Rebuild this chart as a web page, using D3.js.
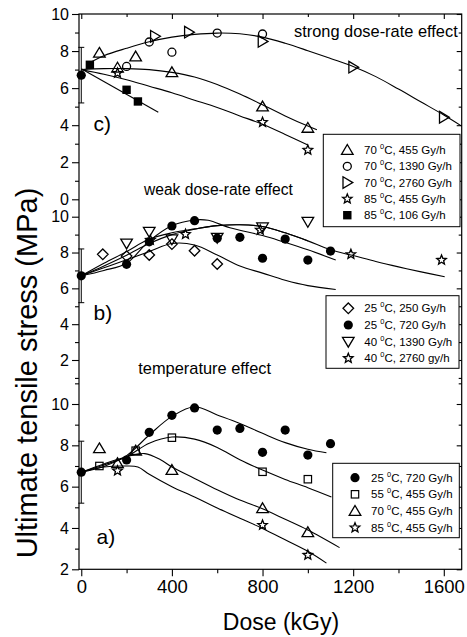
<!DOCTYPE html>
<html><head><meta charset="utf-8">
<script src="https://cdn.jsdelivr.net/npm/d3@7"></script>
<style>
body{margin:0;background:#fff;}
svg text{font-family:"Liberation Sans",Arial,sans-serif;fill:#000;}
</style></head>
<body><svg id="chart" width="467" height="637"></svg>
<script>
// ---------- DATA ----------
const xTicks = [0, 400, 800, 1200, 1600];
const xMinor = [200, 600, 1000, 1400];
const yTicksC = [0, 2, 4, 6, 8, 10];
const yMinorC = [1, 3, 5, 7, 9];
const yTicksB = [2, 4, 6, 8, 10];
const yMinorB = [1, 3, 5, 7, 9];
const yTicksA = [2, 4, 6, 8, 10];
const yMinorA = [3, 5, 7, 9, 11];

// common start point (dose 0)
const startDose = [0];
const startValue = [6.7];
const startErr = [1.5];

// panel c: strong dose-rate effect
const c_tri455  = [[80,7.9],[160,7.1],[240,7.7],[400,6.85],[800,5.0],[1000,3.85]];
const c_circ1390 = [[200,7.17],[300,8.49],[400,7.94],[600,8.97],[800,8.92]];
const c_triR2760 = [[325,8.8],[475,9.02],[800,8.52],[1200,7.13],[1600,4.43]];
const c_star455 = [[160,6.81],[800,4.16],[1000,2.66]];
const c_sq106 = [[38,7.26],[200,5.91],[250,5.28]];
const c_fitHigh = [[34,7.35],[100,7.75],[200,8.15],[300,8.5],[400,8.75],[500,8.9],[600,8.97],[700,8.93],[800,8.75],[900,8.42],[1000,8.02],[1100,7.6],[1200,7.17],[1300,6.62],[1400,5.95],[1500,5.25],[1600,4.55],[1679,3.95]];
const c_fit455 = [[0,7.0],[100,7.05],[200,7.05],[300,7.0],[400,6.85],[500,6.6],[600,6.2],[700,5.68],[800,5.1],[900,4.5],[1000,3.95],[1040,3.75]];
const c_fit85 = [[0,7.0],[100,6.75],[200,6.45],[300,6.1],[400,5.75],[500,5.35],[600,4.95],[700,4.5],[800,4.05],[900,3.5],[1000,2.93]];
const c_fit106 = [[0,7.05],[340,4.7]];

// panel b: weak dose-rate effect
const b_dia250 = [[95,7.9],[200,7.8],[300,7.86],[400,8.47],[500,8.1],[600,7.36]];
const b_circ720 = [[200,7.34],[300,8.6],[400,9.48],[500,9.78],[600,8.8],[700,8.85],[800,7.68],[900,8.75],[1000,7.58],[1100,8.08]];
const b_triD1390 = [[200,8.51],[300,9.16],[400,8.74],[600,8.83],[800,9.41],[1000,9.72]];
const b_star2760 = [[305,8.7],[460,9.02],[790,9.26],[1190,7.9],[1590,7.58]];
const b_fitDia = [[0,6.7],[100,7.15],[200,7.6],[300,8.05],[400,8.5],[500,8.42],[600,7.86],[700,7.25],[800,6.85],[900,6.45],[1000,6.15],[1123,5.94]];
const b_fitCirc = [[0,6.7],[100,7.0],[200,7.4],[300,8.65],[400,9.5],[500,9.82],[560,9.8],[656,9.38],[800,8.95],[891,8.6],[1000,8.15],[1123,7.58]];
const b_fitTri = [[0,6.7],[100,7.4],[200,8.05],[300,8.75],[400,9.1],[500,9.32],[600,9.5],[700,9.55],[800,9.45],[900,9.1],[1000,8.65]];
const b_fitStar = [[0,6.7],[100,7.25],[200,7.85],[300,8.5],[400,9.0],[500,9.3],[600,9.5],[700,9.55],[800,9.45],[900,9.1],[1000,8.65],[1100,8.15],[1200,7.83],[1300,7.5],[1400,7.2],[1500,6.92],[1604,6.65]];

// panel a: temperature effect
const a_circ720 = [[200,7.29],[300,8.63],[400,9.45],[500,9.81],[600,8.74],[700,8.82],[800,7.66],[900,8.74],[1000,7.53],[1100,8.08]];
const a_sq455 = [[80,7.0],[240,7.74],[400,8.37],[800,6.72],[1000,6.36]];
const a_tri455 = [[80,7.85],[160,7.13],[240,7.74],[400,6.8],[800,4.95],[1000,3.79]];
const a_star455 = [[160,6.77],[800,4.14],[1000,2.69]];
const a_fit25 = [[0,6.7],[100,6.98],[200,7.5],[300,8.5],[400,9.4],[500,9.87],[600,9.47],[700,9.06],[800,8.58],[900,8.13],[1000,7.81],[1082,7.64]];
const a_fit55 = [[0,6.7],[100,7.05],[200,7.45],[300,8.1],[400,8.4],[500,8.3],[600,7.9],[700,7.3],[800,6.8],[900,6.35],[1000,5.95],[1104,5.5]];
const a_fit70 = [[0,6.7],[100,7.1],[200,7.45],[280,7.6],[350,7.3],[400,6.95],[500,6.4],[600,5.85],[700,5.35],[800,4.93],[900,4.42],[1000,3.9],[1140,3.05]];
const a_fit85 = [[0,6.7],[100,6.95],[200,7.0],[250,6.95],[300,6.6],[400,6.0],[500,5.5],[600,4.97],[700,4.47],[800,3.98],[900,3.43],[1000,2.87],[1082,2.3]];

// legends
const legC = ["70|C, 455 Gy/h","70|C, 1390 Gy/h","70|C, 2760 Gy/h","85|C, 455 Gy/h","85|C, 106 Gy/h"];
const legCsym = ["triUp","circle","triRight","star","squareF"];
const legB = ["25|C, 250 Gy/h","25|C, 720 Gy/h","40|C, 1390 Gy/h","40|C, 2760 gy/h"];
const legBsym = ["diamond","dot","triDown","star"];
const legA = ["25|C, 720 Gy/h","55|C, 455 Gy/h","70|C, 455 Gy/h","85|C, 455 Gy/h"];
const legAsym = ["dot","square","triUp","star"];

// ---------- DRAW ----------
const svg = d3.select("#chart");
const X0 = 79, X1 = 461.7, Ytop = 14, Ybot = 569.3;
const x = d3.scaleLinear().domain([-10, 1679]).range([X0, X1]);
const yC = d3.scaleLinear().domain([0, 10]).range([199.3, 14]);
const yB = d3.scaleLinear().domain([2, 10]).range([360, 216.7]);
const yA = d3.scaleLinear().domain([2, 10]).range([569.3, 404]);

function marker(g, type, cx, cy) {
  const s = "#000";
  let p;
  switch (type) {
    case "triUp": p = `M${cx},${cy-5.5}L${cx+5.8},${cy+4.3}L${cx-5.8},${cy+4.3}Z`; break;
    case "triDown": p = `M${cx-5.8},${cy-4.3}L${cx+5.8},${cy-4.3}L${cx},${cy+5.5}Z`; break;
    case "triRight": p = `M${cx-4.3},${cy-5.8}L${cx+5.5},${cy}L${cx-4.3},${cy+5.8}Z`; break;
    case "diamond": p = `M${cx},${cy-5.3}L${cx+5.3},${cy}L${cx},${cy+5.3}L${cx-5.3},${cy}Z`; break;
    case "star": {
      const pts = [];
      for (let i = 0; i < 10; i++) {
        const r = i % 2 ? 2.2 : 5.0;
        const a = -Math.PI / 2 + i * Math.PI / 5;
        pts.push([cx + r * Math.cos(a), cy + r * Math.sin(a)]);
      }
      p = "M" + pts.map(d => d.join(",")).join("L") + "Z"; break;
    }
  }
  if (p) { g.append("path").attr("d", p).attr("fill", "none").attr("stroke", s).attr("stroke-width", 1.3); return; }
  if (type === "circle") g.append("circle").attr("cx", cx).attr("cy", cy).attr("r", 4).attr("fill", "none").attr("stroke", s).attr("stroke-width", 1.3);
  if (type === "dot") g.append("circle").attr("cx", cx).attr("cy", cy).attr("r", 4.6).attr("fill", s);
  if (type === "square") g.append("rect").attr("x", cx-3.7).attr("y", cy-3.7).attr("width", 7.4).attr("height", 7.4).attr("fill", "none").attr("stroke", s).attr("stroke-width", 1.2);
  if (type === "squareF") g.append("rect").attr("x", cx-4.2).attr("y", cy-4.2).attr("width", 8.4).attr("height", 8.4).attr("fill", s);
}

const line = (ys) => d3.line().x(d => x(d[0])).y(d => ys(d[1])).curve(d3.curveCatmullRom.alpha(0.5));

function drawCurves(ys, fits) {
  const g = svg.append("g");
  fits.forEach(f => g.append("path").attr("d", line(ys)(f)).attr("fill", "none").attr("stroke", "#000").attr("stroke-width", 1.1));
}
function drawSeries(ys, data, type) {
  const g = svg.append("g");
  data.forEach(d => marker(g, type, x(d[0]), ys(d[1])));
}
function drawStart(ys) {
  const g = svg.append("g");
  startDose.forEach((d, i) => {
    const cx = x(d), v = startValue[i], e = startErr[i];
    g.append("line").attr("x1", cx).attr("x2", cx).attr("y1", ys(v - e)).attr("y2", ys(v + e)).attr("stroke", "#000").attr("stroke-width", 1);
    [v - e, v + e].forEach(t => g.append("line").attr("x1", cx - 3).attr("x2", cx + 3).attr("y1", ys(t)).attr("y2", ys(t)).attr("stroke", "#000").attr("stroke-width", 1));
    marker(g, "dot", cx, ys(v));
  });
}

drawCurves(yC, [c_fitHigh, c_fit455, c_fit85, c_fit106]);
drawCurves(yB, [b_fitDia, b_fitCirc, b_fitTri, b_fitStar]);
drawCurves(yA, [a_fit25, a_fit55, a_fit70, a_fit85]);

drawSeries(yC, c_tri455, "triUp");
drawSeries(yC, c_circ1390, "circle");
drawSeries(yC, c_triR2760, "triRight");
drawSeries(yC, c_star455, "star");
drawSeries(yC, c_sq106, "squareF");
drawStart(yC);
drawSeries(yB, b_dia250, "diamond");
drawSeries(yB, b_circ720, "dot");
drawSeries(yB, b_triD1390, "triDown");
drawSeries(yB, b_star2760, "star");
drawStart(yB);
drawSeries(yA, a_circ720, "dot");
drawSeries(yA, a_sq455, "square");
drawSeries(yA, a_tri455, "triUp");
drawSeries(yA, a_star455, "star");
drawStart(yA);

svg.append("rect").attr("x", X0).attr("y", Ytop).attr("width", X1 - X0).attr("height", Ybot - Ytop)
  .attr("fill", "none").attr("stroke", "#000").attr("stroke-width", 1.2);

function styleAxis(g) { g.select(".domain").remove(); g.selectAll("line").attr("stroke", "#000").attr("stroke-width", 1.1); }
const xb = svg.append("g").attr("transform", `translate(0,${Ybot})`)
  .call(d3.axisBottom(x).tickValues(xTicks).tickSize(7).tickPadding(4).tickFormat(d3.format("d")));
styleAxis(xb); xb.selectAll("text").attr("font-size", 18.5).attr("font-family", "Liberation Sans, Arial, sans-serif");
const xbm = svg.append("g").attr("transform", `translate(0,${Ybot})`).call(d3.axisBottom(x).tickValues(xMinor).tickSize(4).tickFormat(""));
styleAxis(xbm);
const xt = svg.append("g").attr("transform", `translate(0,${Ytop})`).call(d3.axisBottom(x).tickValues(xTicks).tickSize(5).tickFormat(""));
styleAxis(xt);
const xtm = svg.append("g").attr("transform", `translate(0,${Ytop})`).call(d3.axisBottom(x).tickValues(xMinor).tickSize(3).tickFormat(""));
styleAxis(xtm);

[[yC, yTicksC, yMinorC], [yB, yTicksB, yMinorB], [yA, yTicksA, yMinorA]].forEach(([ys, maj, mnr]) => {
  const gl = svg.append("g").attr("transform", `translate(${X0},0)`)
    .call(d3.axisLeft(ys).tickValues(maj).tickSize(7).tickPadding(3).tickFormat(d3.format("d")));
  styleAxis(gl); gl.selectAll("text").attr("font-size", 16).attr("font-family", "Liberation Sans, Arial, sans-serif");
  const glm = svg.append("g").attr("transform", `translate(${X0},0)`).call(d3.axisLeft(ys).tickValues(mnr).tickSize(4).tickFormat(""));
  styleAxis(glm);
  const gr = svg.append("g").attr("transform", `translate(${X1},0)`).call(d3.axisLeft(ys).tickValues(maj).tickSize(5).tickFormat(""));
  styleAxis(gr);
  const grm = svg.append("g").attr("transform", `translate(${X1},0)`).call(d3.axisLeft(ys).tickValues(mnr).tickSize(3).tickFormat(""));
  styleAxis(grm);
});

svg.append("text").attr("x", 281).attr("y", 630).attr("text-anchor", "middle").attr("font-size", 23).text("Dose (kGy)");
svg.append("text").attr("transform", "translate(37,373) rotate(-90)").attr("text-anchor", "middle").attr("font-size", 29).text("Ultimate tensile stress (MPa)");

svg.append("text").attr("x", 294).attr("y", 37.3).attr("font-size", 16.4).text("strong dose-rate effect");
svg.append("text").attr("x", 144).attr("y", 195).attr("font-size", 15.6).text("weak dose-rate effect");
svg.append("text").attr("x", 138.3).attr("y", 374).attr("font-size", 16.4).text("temperature effect");
svg.append("text").attr("x", 93.5).attr("y", 131).attr("font-size", 21).text("c)");
svg.append("text").attr("x", 93.5).attr("y", 319.5).attr("font-size", 21).text("b)");
svg.append("text").attr("x", 96.5).attr("y", 543.5).attr("font-size", 21).text("a)");

function legend(box, symX, txtX, rows, labels, syms) {
  svg.append("rect").attr("x", box[0]).attr("y", box[1]).attr("width", box[2] - box[0]).attr("height", box[3] - box[1])
    .attr("fill", "#fff").attr("stroke", "#000").attr("stroke-width", 1);
  const g = svg.append("g");
  labels.forEach((lab, i) => {
    const cy = rows[i];
    marker(g, syms[i], symX, cy);
    const [a, b] = lab.split("|");
    const t = g.append("text").attr("x", txtX).attr("y", cy + 4).attr("font-size", 11.5);
    t.append("tspan").text(a + " ");
    t.append("tspan").attr("font-size", 7.5).attr("dy", -5).text("0");
    t.append("tspan").attr("dy", 5).text(b);
  });
}
legend([323.3, 134.3, 460, 226.7], 347.3, 364, [150, 166.3, 182.6, 198.9, 215.2], legC, legCsym);
legend([326, 295.7, 459, 368.3], 348.3, 364.3, [308.3, 325, 341.7, 358.3], legB, legBsym);
legend([332.7, 463.3, 459.3, 537.7], 355, 371, [477.7, 494.3, 511, 527.7], legA, legAsym);
</script></body></html>
